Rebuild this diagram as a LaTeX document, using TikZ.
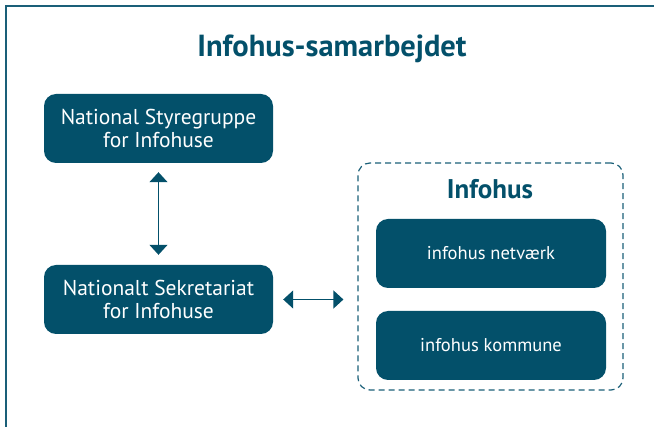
\documentclass[tikz,border=0pt]{standalone}
\usepackage{fontspec}
\setmainfont{PT Sans}
\usetikzlibrary{arrows.meta}
\definecolor{infoblue}{HTML}{03506A}
\definecolor{frameblue}{HTML}{1A5F78}
\tikzset{
  orgbox/.style={draw=none, fill=infoblue, text=white, rounded corners=12pt,
    align=center, font=\fontsize{21.5}{23}\selectfont},
  smallbox/.style={orgbox, font=\fontsize{18.5}{20}\selectfont},
  link/.style={draw=infoblue, line width=1.4pt, {Triangle[width=18pt,length=10pt]}-{Triangle[width=18pt,length=10pt]}}
}
\begin{document}
\begin{tikzpicture}[x=1pt,y=-1pt]
  \useasboundingbox (0,0) rectangle (654,427);
  % frame, open at right and bottom
  \draw[frameblue, line width=2.6pt] (6,427) -- (6,6) -- (654,6);
  \node[anchor=base, text=infoblue, font=\fontsize{30.5}{32}\selectfont\bfseries] (title) at (332,57) {Infohus-samarbejdet};
  \node[orgbox, minimum width=229pt, minimum height=69pt] (styre) at (158.5,128.5) {National Styregruppe\\for Infohuse};
  \node[orgbox, minimum width=229pt, minimum height=69pt] (sekr) at (158.5,299.5) {Nationalt Sekretariat\\for Infohuse};
  \node[draw=frameblue, dash pattern=on 6pt off 4pt, line width=1.2pt, rounded corners=12pt, minimum width=265pt, minimum height=227pt] (infohus) at (490.5,276.5) {};
  \node[anchor=base, text=infoblue, font=\fontsize{27}{28}\selectfont\bfseries] (infotitle) at (490,199) {Infohus};
  \node[smallbox, minimum width=230pt, minimum height=69pt] (netv) at (491,253.5) {infohus netværk};
  \node[smallbox, minimum width=230pt, minimum height=69pt] (komm) at (491,345.5) {infohus kommune};
  \draw[link, shorten <=9pt, shorten >=10pt] (styre.south) -- (sekr.north);
  \draw[link, shorten <=10pt, shorten >=14pt] (sekr.east) -- (sekr.east -| infohus.west);
\end{tikzpicture}
\end{document}
